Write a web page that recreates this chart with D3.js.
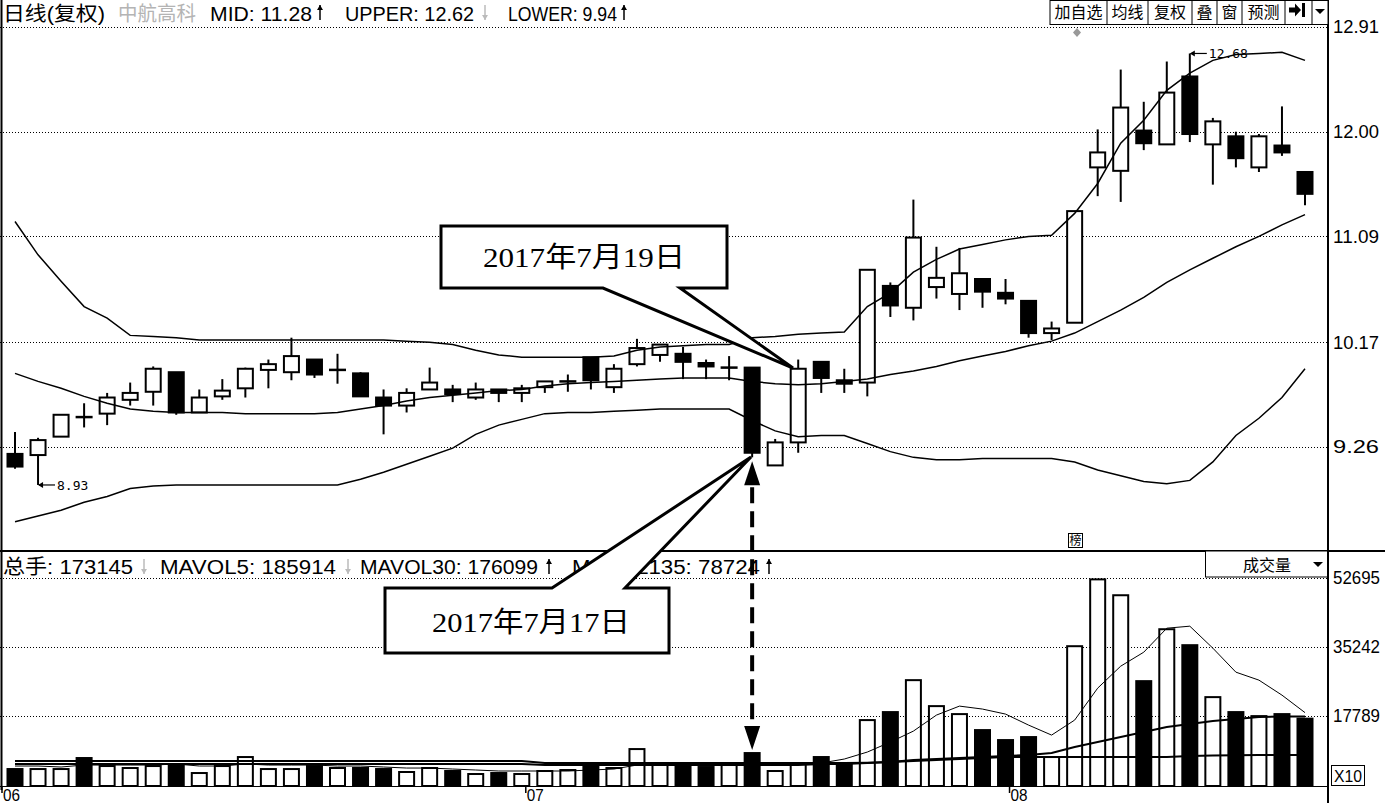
<!DOCTYPE html>
<html><head><meta charset="utf-8">
<script src="https://cdn.jsdelivr.net/npm/d3@7"></script>
<style>body{margin:0;background:#fff;} svg{display:block;}</style>
</head><body>
<svg id="c" width="1385" height="803"></svg>
<script>
// ---------------- data ----------------
const dates = [
 "2017-06-01","2017-06-02","2017-06-05","2017-06-06","2017-06-07","2017-06-08","2017-06-09","2017-06-12","2017-06-13","2017-06-14",
 "2017-06-15","2017-06-16","2017-06-19","2017-06-20","2017-06-21","2017-06-22","2017-06-23","2017-06-26","2017-06-27","2017-06-28",
 "2017-06-29","2017-06-30","2017-07-03","2017-07-04","2017-07-05","2017-07-06","2017-07-07","2017-07-10","2017-07-11","2017-07-12",
 "2017-07-13","2017-07-14","2017-07-17","2017-07-18","2017-07-19","2017-07-20","2017-07-21","2017-07-24","2017-07-25","2017-07-26",
 "2017-07-27","2017-07-28","2017-07-31","2017-08-01","2017-08-02","2017-08-03","2017-08-04","2017-08-07","2017-08-08","2017-08-09",
 "2017-08-10","2017-08-11","2017-08-14","2017-08-15","2017-08-16","2017-08-17","2017-08-18"];
const open = [9.20,9.19,9.35,9.52,9.55,9.67,9.74,9.91,9.56,9.70, 9.77,9.93,9.91,10.02,9.93,9.90,9.69,9.62,9.76,9.76,
 9.69,9.76,9.73,9.78,9.83,10.04,9.78,9.98,10.06,10.07, 9.99,9.95,9.95,9.10,9.30,10.00,9.84,9.82,10.66,10.47,
 10.65,10.59,10.72,10.60,10.53,10.25,10.34,11.69,11.66,12.01, 11.89,12.48,11.89,11.96,11.69,11.88,11.65];
const close = [9.09,9.32,9.54,9.51,9.69,9.73,9.94,9.56,9.69,9.75, 9.94,9.98,10.05,9.89,9.93,9.70,9.62,9.73,9.82,9.72,
 9.76,9.73,9.77,9.83,9.83,9.84,9.94,10.12,10.15,10.00, 9.96,9.95,9.21,9.30,9.94,9.86,9.81,10.80,10.49,11.08,
 10.73,10.77,10.61,10.55,10.25,10.29,11.31,11.82,12.21,11.90, 12.34,11.98,12.09,11.77,11.96,11.82,11.46];
const high = [9.39,9.34,9.54,9.64,9.73,9.82,9.96,9.91,9.76,9.85, 9.95,10.02,10.21,10.02,10.07,9.91,9.76,9.77,9.95,9.80,
 9.82,9.76,9.80,9.83,9.89,10.04,9.98,10.20,10.15,10.13, 10.02,10.05,9.95,9.33,10.02,10.00,9.94,10.80,10.69,11.41,
 11.00,10.99,10.72,10.72,10.53,10.35,11.31,12.02,12.54,12.26, 12.61,12.68,12.12,12.00,11.98,12.22,11.65];
const low = [9.07,8.93,9.35,9.43,9.45,9.62,9.62,9.54,9.56,9.67, 9.69,9.77,9.84,9.86,9.81,9.70,9.37,9.56,9.76,9.65,
 9.67,9.65,9.65,9.73,9.74,9.76,9.73,9.96,10.00,9.85, 9.85,9.84,9.17,9.10,9.21,9.73,9.73,9.70,10.39,10.36,
 10.55,10.45,10.47,10.50,10.21,10.19,10.34,11.44,11.39,11.84, 11.89,11.91,11.54,11.69,11.65,11.79,11.36];
const upper = [11.22,10.93,10.70,10.48,10.38,10.23,10.22,10.21,10.19,10.19, 10.19,10.19,10.19,10.19,10.19,10.19,10.19,10.18,10.17,10.15,
 10.10,10.06,10.04,10.04,10.04,10.04,10.05,10.10,10.13,10.14, 10.15,10.15,10.21,10.22,10.24,10.25,10.26,10.48,10.60,10.78,
 10.89,10.98,11.02,11.06,11.09,11.10,11.29,11.55,11.90,12.10, 12.36,12.51,12.62,12.67,12.68,12.69,12.62];
const mid = [9.90,9.83,9.77,9.70,9.64,9.59,9.57,9.56,9.56,9.56, 9.55,9.55,9.55,9.55,9.56,9.59,9.62,9.66,9.69,9.71,
 9.73,9.75,9.76,9.79,9.81,9.82,9.83,9.84,9.85,9.86, 9.86,9.86,9.83,9.81,9.80,9.81,9.83,9.85,9.89,9.92,
 9.96,10.01,10.05,10.09,10.14,10.18,10.25,10.35,10.45,10.56, 10.69,10.80,10.90,11.00,11.09,11.19,11.28];
const lower = [8.61,8.66,8.71,8.78,8.83,8.90,8.92,8.93,8.93,8.93, 8.93,8.93,8.93,8.93,8.93,8.98,9.04,9.11,9.18,9.25,
 9.37,9.45,9.50,9.55,9.56,9.56,9.57,9.58,9.59,9.59, 9.59,9.59,9.49,9.40,9.35,9.36,9.36,9.29,9.22,9.17,
 9.15,9.15,9.16,9.16,9.16,9.16,9.13,9.06,9.01,8.96, 8.94,8.97,9.13,9.36,9.51,9.69,9.94];
const volume = [4550,4550,4550,7340,5310,4810,5310,5820,3540,5310, 7590,4550,4550,5310,4810,4810,4550,3800,4810,4050,
 3290,3540,3290,4050,4300,5820,4810,9610,6070,5310, 5060,5570,8600,4050,6070,7590,5820,16950,18980,27070,
 20490,18470,14420,11890,12650,7590,35670,52600,48580,26820, 39970,35930,22770,18980,17960,18470,17315];
const mavol5 = [5060,5060,4810,5310,5310,5310,5310,5570,5060,5060, 5570,5310,5310,5310,5060,5060,4810,4550,4550,4300,
 4050,3800,3800,3800,3800,4050,4300,5310,5570,5570, 5820,5570,6070,5570,5570,5820,6830,8600,11130,13910,
 17960,20240,19490,18220,15430,12900,16700,24790,30360,33900, 39980,40490,34920,28840,26820,23020,18591];
const mavol30 = [5560,5560,5560,5560,5560,5560,5560,5560,5560,5560, 5560,5560,5560,5560,5560,5560,5560,5560,5560,5560,
 5560,5560,5560,5300,5300,5300,5300,5300,5300,5300, 5300,5300,5300,5300,5300,5560,5560,5820,6070,6580,
 6830,7080,7340,7590,7840,8350,9870,11130,12400,13660, 14930,15690,16450,16950,17460,17600,17610];
const mavol135 = [6330,6330,6330,6330,6330,6330,6330,6330,6330,6330, 6330,6330,6330,6330,6330,6330,6330,6330,6330,6330,
 6330,6330,6330,5820,5820,5820,5820,5820,5820,5820, 5820,5820,5820,5820,5820,5820,5820,5900,6100,6330,
 6580,6830,7080,7340,7340,7340,7340,7340,7340,7340, 7340,7600,7700,7800,7850,7860,7872];
const priceTicks = [12.91, 12.00, 11.09, 10.17, 9.26];
const volTicks = [52695, 35242, 17789];
const monthLabels = ["06", "07", "08"];
const monthStarts = ["2017-06-01", "2017-07-03", "2017-08-01"];

// ---------------- scales ----------------
const svg = d3.select('#c');
const AX = 1328;
const x = d3.scalePoint().domain(dates).range([15, 1305]);
const yP = d3.scaleLinear().domain([9.26, 12.91]).range([447, 27]);
const yV = d3.scaleLinear().domain([0, 52695]).range([786, 578]);
const BW = 17;
const FONT = "'Liberation Sans', Arial, 'Noto Sans CJK SC', sans-serif";
const CJK = "'Noto Sans CJK SC', 'Liberation Sans', sans-serif";

svg.append('rect').attr('width',1385).attr('height',803).attr('fill','#fff');

// grid lines
svg.append('g').selectAll('line').data(priceTicks).join('line')
  .attr('x1',0).attr('x2',AX).attr('y1',d=>Math.round(yP(d))+0.5).attr('y2',d=>Math.round(yP(d))+0.5)
  .attr('stroke','#000').attr('stroke-dasharray','1,2');
svg.append('g').selectAll('line').data(volTicks).join('line')
  .attr('x1',0).attr('x2',AX).attr('y1',d=>Math.round(yV(d))+0.5).attr('y2',d=>Math.round(yV(d))+0.5)
  .attr('stroke','#000').attr('stroke-dasharray','1,2');

// axis labels
svg.append('g').selectAll('text').data(priceTicks).join('text')
  .attr('x',1333).attr('y',d=>yP(d)).attr('dy','0.36em')
  .attr('font-family',FONT).attr('font-size',18).attr('textLength',46).attr('lengthAdjust','spacingAndGlyphs')
  .text(d=>d.toFixed(2));
svg.append('g').selectAll('text').data(volTicks).join('text')
  .attr('x',1333).attr('y',d=>yV(d)).attr('dy','0.36em')
  .attr('font-family',FONT).attr('font-size',18).attr('textLength',47).attr('lengthAdjust','spacingAndGlyphs')
  .text(d=>d);

// ---------------- candles ----------------
const cg = svg.append('g');
dates.forEach((d,i)=>{
  const cx = x(d);
  const o=open[i], c=close[i];
  const top = yP(Math.max(o,c)), bot = yP(Math.min(o,c));
  cg.append('line').attr('x1',cx).attr('x2',cx).attr('y1',yP(high[i])).attr('y2',yP(low[i]))
    .attr('stroke','#000').attr('stroke-width',2);
  if (bot - top < 2) {
    cg.append('line').attr('x1',cx-BW/2).attr('x2',cx+BW/2).attr('y1',top).attr('y2',top)
      .attr('stroke','#000').attr('stroke-width',2.5);
  } else if (c > o) {
    cg.append('rect').attr('x',cx-BW/2+1).attr('y',top).attr('width',BW-2).attr('height',bot-top)
      .attr('fill','#fff').attr('stroke','#000').attr('stroke-width',2);
  } else {
    cg.append('rect').attr('x',cx-BW/2).attr('y',top-1).attr('width',BW).attr('height',bot-top+2)
      .attr('fill','#000');
  }
});

// Bollinger lines
const bl = (arr)=>d3.line().x((v,i)=>x(dates[i])).y(v=>yP(v))(arr);
[upper, mid, lower].forEach(arr=>{
  svg.append('path').attr('d',bl(arr)).attr('fill','none').attr('stroke','#000').attr('stroke-width',1.5);
});

// extreme markers
function marker(i, val, label){
  const cx = x(dates[i]), cy = yP(val);
  const g = svg.append('g');
  g.append('line').attr('x1',cx+1).attr('x2',cx+17).attr('y1',cy).attr('y2',cy).attr('stroke','#000').attr('stroke-width',1.2);
  g.append('path').attr('d',`M${cx},${cy} l5,-3 l0,6 z`).attr('fill','#000');
  g.append('text').attr('x',cx+19).attr('y',cy).attr('dy','0.36em')
    .attr('font-family',"'DejaVu Sans Mono', monospace").attr('font-size',13).text(label);
}
marker(1, low[1], "8.93");
marker(51, high[51], "12.68");

// ---------------- volume ----------------
const vg = svg.append('g');
dates.forEach((d,i)=>{
  const cx = x(d);
  const t = yV(volume[i]);
  if (close[i] >= open[i]) {
    vg.append('rect').attr('x',cx-BW/2+1).attr('y',t+1).attr('width',BW-2).attr('height',786-t-1)
      .attr('fill','#fff').attr('stroke','#000').attr('stroke-width',2);
  } else {
    vg.append('rect').attr('x',cx-BW/2).attr('y',t).attr('width',BW).attr('height',786-t).attr('fill','#000');
  }
});
const vl = (arr)=>d3.line().x((v,i)=>x(dates[i])).y(v=>yV(v))(arr);
svg.append('path').attr('d',vl(mavol135)).attr('fill','none').attr('stroke','#000').attr('stroke-width',2);
svg.append('path').attr('d',vl(mavol30)).attr('fill','none').attr('stroke','#000').attr('stroke-width',2);
svg.append('path').attr('d',vl(mavol5)).attr('fill','none').attr('stroke','#000').attr('stroke-width',1);

// x axis
svg.append('line').attr('x1',0).attr('x2',AX).attr('y1',786.5).attr('y2',786.5).attr('stroke','#000');
monthStarts.forEach((d,k)=>{
  const tx = k===0 ? 2 : x(d)+4;
  svg.append('line').attr('x1',tx).attr('x2',tx).attr('y1',786).attr('y2',793).attr('stroke','#000').attr('stroke-width',1.5);
  svg.append('text').attr('x',tx+1).attr('y',801).attr('font-family',FONT).attr('font-size',16)
    .attr('textLength',17).attr('lengthAdjust','spacingAndGlyphs').text(monthLabels[k]);
});

// frame lines
svg.append('line').attr('x1',1.5).attr('x2',1.5).attr('y1',0).attr('y2',790).attr('stroke','#000').attr('stroke-width',2);
svg.append('line').attr('x1',AX).attr('x2',AX).attr('y1',0).attr('y2',803).attr('stroke','#000').attr('stroke-width',2);
svg.append('line').attr('x1',0).attr('x2',1385).attr('y1',551).attr('y2',551).attr('stroke','#000').attr('stroke-width',2);

// X10 box
svg.append('rect').attr('x',1331.5).attr('y',765.5).attr('width',33).attr('height',20).attr('fill','#fff').attr('stroke','#000');
svg.append('text').attr('x',1348).attr('y',782).attr('text-anchor','middle').attr('font-family',FONT).attr('font-size',16)
  .attr('textLength',28).attr('lengthAdjust','spacingAndGlyphs').text('X10');

// ---------------- header texts ----------------
function txt(s, x0, y0, w, col, size){
  svg.append('text').attr('x',x0).attr('y',y0).attr('font-family',FONT).attr('font-size',size||20)
    .attr('fill',col||'#000').attr('textLength',w).attr('lengthAdjust','spacingAndGlyphs').text(s);
}
function arrow(x0, yTop, up, col){
  const g = svg.append('g').attr('fill',col).attr('stroke',col);
  g.append('line').attr('x1',x0).attr('x2',x0).attr('y1',yTop).attr('y2',yTop+15).attr('stroke-width',1.5);
  if (up) g.append('path').attr('d',`M${x0-3},${yTop+5} L${x0},${yTop} L${x0+3},${yTop+5} Z`).attr('stroke','none');
  else g.append('path').attr('d',`M${x0-3},${yTop+10} L${x0},${yTop+15} L${x0+3},${yTop+10} Z`).attr('stroke','none');
}
txt('日线(复权)', 3, 21, 102);
txt('中航高科', 118, 21, 78, '#b4b4b4');
txt('MID: 11.28', 210, 21, 102);
arrow(320, 5, true, '#000');
txt('UPPER: 12.62', 345, 21, 129);
arrow(485, 5, false, '#bbb');
txt('LOWER: 9.94', 508, 21, 109);
arrow(624, 5, true, '#000');

txt('总手: 173145', 3, 574, 130);
arrow(144, 559, false, '#bbb');
txt('MAVOL5: 185914', 160, 574, 176);
arrow(348, 559, false, '#bbb');
txt('MAVOL30: 176099', 360, 574, 178);
arrow(549, 559, true, '#000');
txt('MAVOL135: 78724', 572, 574, 188);
arrow(769, 559, true, '#000');

// buttons
const btnEdges = [1050, 1107, 1148, 1192, 1217, 1242, 1285, 1312, 1328];
svg.append('rect').attr('x',1050).attr('y',0.5).attr('width',278).attr('height',24).attr('fill','#fff').attr('stroke','#000');
btnEdges.slice(1,-1).forEach(e=>svg.append('line').attr('x1',e).attr('x2',e).attr('y1',0).attr('y2',25).attr('stroke','#000'));
const btnLabels = ['加自选','均线','复权','叠','窗','预测'];
btnLabels.forEach((s,k)=>{
  svg.append('text').attr('x',(btnEdges[k]+btnEdges[k+1])/2).attr('y',18).attr('text-anchor','middle')
    .attr('font-family',CJK).attr('font-size',16).text(s);
});
svg.append('path').attr('d','M1289,7.5 h6 v-4 l6,6.5 l-6,6.5 v-4 h-6 z').attr('fill','#000');
svg.append('rect').attr('x',1302).attr('y',3).attr('width',3).attr('height',14).attr('fill','#000');
svg.append('path').attr('d','M1315,9 h10 l-5,5 z').attr('fill','#000');
svg.append('path').attr('d','M1077,28 l4,4.5 l-4,4.5 l-4,-4.5 z').attr('fill','#999');

// 成交量 box
svg.append('rect').attr('x',1205.5).attr('y',551).attr('width',122).attr('height',26).attr('fill','#fff').attr('stroke','#000');
svg.append('text').attr('x',1267).attr('y',571).attr('text-anchor','middle').attr('font-family',CJK).attr('font-size',16).text('成交量');
svg.append('path').attr('d','M1313,562 h10 l-5,5 z').attr('fill','#000');

// small 榜 icon
svg.append('rect').attr('x',1068.5).attr('y',533.5).attr('width',14).attr('height',14).attr('fill','#fff').attr('stroke','#000');
svg.append('text').attr('x',1075.5).attr('y',545).attr('text-anchor','middle').attr('font-family',CJK).attr('font-size',12).text('榜');

// ---------------- annotations ----------------
const ax = x(dates[32]);
const aTop = yP(low[32]) + 4, aBot = yV(volume[32]) - 2;
svg.append('path').attr('d',`M${ax},${aTop} L${ax-8},${aTop+24} L${ax+8},${aTop+24} Z`).attr('fill','#000');
svg.append('line').attr('x1',ax).attr('x2',ax).attr('y1',aTop+26).attr('y2',aBot-24)
  .attr('stroke','#000').attr('stroke-width',4).attr('stroke-dasharray','16,8');
svg.append('path').attr('d',`M${ax},${aBot} L${ax-8},${aBot-24} L${ax+8},${aBot-24} Z`).attr('fill','#000');

svg.append('path').attr('d','M441,226 L727,226 L727,288 L680,288 L793,368 L603,288 L441,288 Z')
  .attr('fill','#fff').attr('stroke','#000').attr('stroke-width',3).attr('stroke-linejoin','miter');
svg.append('text').attr('x',584).attr('y',267).attr('text-anchor','middle')
  .attr('font-family',"'Liberation Serif','Times New Roman','Noto Sans CJK SC',serif").attr('font-size',28)
  .attr('textLength',202).attr('lengthAdjust','spacingAndGlyphs').text('2017年7月19日');

svg.append('path').attr('d','M385,653 L385,588 L552,588 L751,457 L625,588 L669,588 L669,653 Z')
  .attr('fill','#fff').attr('stroke','#000').attr('stroke-width',3).attr('stroke-linejoin','miter');
svg.append('text').attr('x',531).attr('y',632).attr('text-anchor','middle')
  .attr('font-family',"'Liberation Serif','Times New Roman','Noto Sans CJK SC',serif").attr('font-size',28)
  .attr('textLength',198).attr('lengthAdjust','spacingAndGlyphs').text('2017年7月17日');
</script></body></html>
